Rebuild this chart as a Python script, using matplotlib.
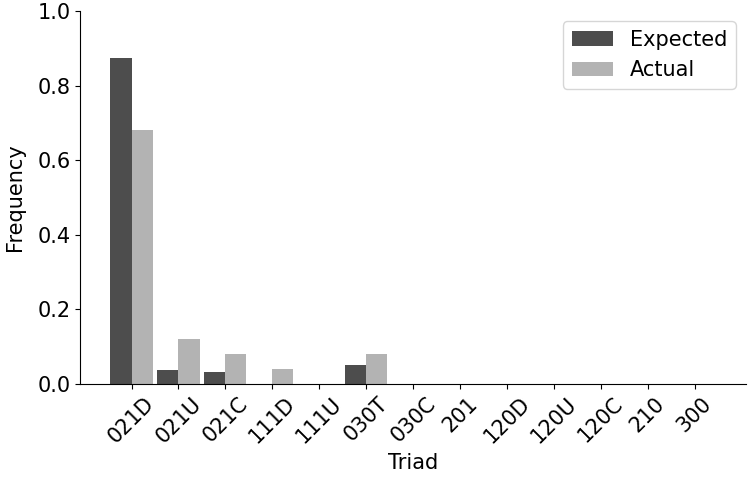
import numpy as np
import matplotlib.pyplot as plt

triads = ['021D', '021U', '021C', '111D', '111U', '030T', '030C',
          '201', '120D', '120U', '120C', '210', '300']
expected = [0.874, 0.038, 0.032, 0.0, 0.0, 0.051, 0.0,
            0.0, 0.0, 0.0, 0.0, 0.0, 0.0]
actual = [0.68, 0.12, 0.08, 0.04, 0.0, 0.08, 0.0,
          0.0, 0.0, 0.0, 0.0, 0.0, 0.0]

plt.rcParams['font.size'] = 15

fig, ax = plt.subplots(figsize=(7.49, 4.8), dpi=100)
x = np.arange(len(triads))
w = 0.45
ax.bar(x, expected, width=-w, align='edge', color='#4d4d4d', label='Expected')
ax.bar(x, actual, width=w, align='edge', color='#b3b3b3', label='Actual')

ax.set_xticks(x)
ax.set_xticklabels(triads, rotation=45)
ax.set_ylim(0, 1.0)
ax.set_xlabel('Triad')
ax.set_ylabel('Frequency', labelpad=9)
ax.spines['top'].set_visible(False)
ax.spines['right'].set_visible(False)
ax.legend(loc='upper right')

plt.subplots_adjust(left=0.107, right=0.996, top=0.977, bottom=0.2)
plt.savefig('out.png')
